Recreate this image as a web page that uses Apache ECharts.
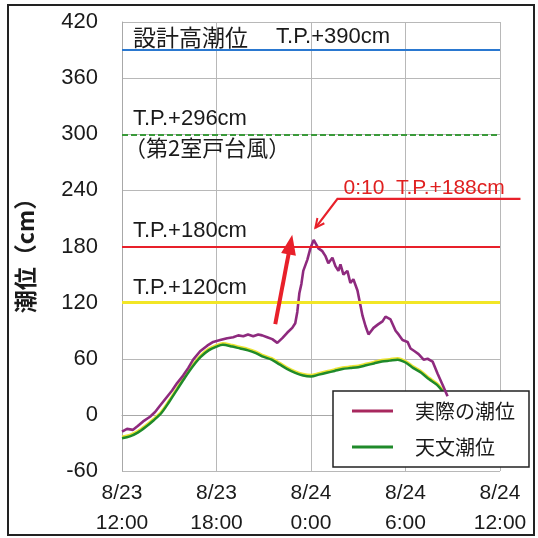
<!DOCTYPE html>
<html><head><meta charset="utf-8">
<script src="https://cdn.jsdelivr.net/npm/echarts@6/dist/echarts.min.js"></script>
<style>html,body{margin:0;padding:0;background:#fff}#c{width:538px;height:538px}</style>
</head><body><div id="c"></div>
<script>
// ---- data ----
const xTickLabels = ['8/23\n12:00', '8/23\n18:00', '8/24\n0:00', '8/24\n6:00', '8/24\n12:00'];
const seriesNames = ['実際の潮位', '天文潮位'];
// hours after 8/23 12:00
const actualHours = [0,0.32,0.7,1.0,1.34,1.78,2.1,2.42,2.8,3.18,3.5,3.88,4.2,4.52,4.96,5.41,5.79,6.23,6.68,7.06,7.38,7.7,8.0,8.33,8.65,8.9,9.22,9.54,9.86,10.18,10.5,10.81,11.0,11.13,11.26,11.39,11.51,11.77,11.96,12.17,12.47,12.72,12.91,13.1,13.36,13.55,13.74,13.87,14.06,14.31,14.5,14.69,14.95,15.08,15.27,15.46,15.65,15.97,16.28,16.54,16.73,17.05,17.37,17.56,17.81,18.13,18.32,18.58,18.83,19.15,19.4,19.72,20.04,20.36,20.67];
const actualLevels = [-18,-15,-16,-12,-7,-2,3,10,18,26,34,42,50,59,68,74,78,80,82,83,85,84,86,84,86,85,83,81,77,82,88,93,98,110,130,140,154,166,178,187,178,175,170,162,168,159,154,161,150,154,141,145,133,122,106,95,86,93,97,100,105,102,90,86,80,78,71,68,65,59,60,57,44,32,20];
const astroHours = [0,0.5,1,1.5,2,2.5,3,3.5,4,4.5,5,5.5,6,6.4,7,7.5,8,8.5,9,9.5,10,10.5,11,11.5,12,12.5,13,13.5,14,14.5,15,15.5,16,16.5,17,17.5,18,18.5,19,19.5,20,20.5];
const astroLevels = [-25,-23,-19,-13,-6,2,14,27,40,52,62,69,73,75,73,71,69,66,62,59,54,49,45,42,41,43,45,47,49,50,51,53,55,57,58,59,56,50,45,38,32,22];
const refLevels = [390, 300, 180, 120];
const refColors = ['#2a78d0', '#3a9a3a', '#e8202a', '#f2e626'];
const peakNote = '0:10  T.P.+188cm';

const LAT = "'Liberation Sans', Arial, 'Noto Sans CJK JP', sans-serif";
const CJK = "'Noto Sans CJK JP', sans-serif";

function pairs(xs, ys) { return xs.map((x, i) => [x, ys[i]]); }

const refLineData = refLevels.map((v, i) => [
  { coord: [0, v] },
  { coord: [24, v], lineStyle: { color: refColors[i], width: i === 3 ? 3 : (i === 1 ? 2 : 2.2), type: i === 1 ? [6, 3] : 'solid' } }
]);
// red rising arrow (annotation)
refLineData.push([
  { coord: [9.73, 97], symbol: 'none' },
  { coord: [10.69, 182], symbol: 'triangle', symbolSize: [15, 20], lineStyle: { color: '#e8202a', width: 4, type: 'solid' }, itemStyle: { color: '#e8202a' } }
]);

const option = {
  animation: false,
  backgroundColor: '#fff',
  grid: { left: 122, right: 38, top: 22, bottom: 63 },
  xAxis: {
    type: 'value', min: 0, max: 24, interval: 6,
    axisLine: { show: true, lineStyle: { color: '#a8a8a8', width: 1 } },
    axisTick: { show: false },
    splitLine: { show: true, lineStyle: { color: '#b8b8b8', width: 1 } },
    axisLabel: {
      formatter: v => xTickLabels[Math.round(v / 6)],
      fontSize: 21, lineHeight: 30, color: '#1a1a1a', margin: 7, fontFamily: LAT
    }
  },
  yAxis: {
    type: 'value', min: -60, max: 420, interval: 60,
    axisLine: { show: true, lineStyle: { color: '#a8a8a8', width: 1 } },
    axisTick: { show: false },
    splitLine: { show: true, lineStyle: { color: '#b8b8b8', width: 1 } },
    axisLabel: { fontSize: 22, color: '#1a1a1a', margin: 24, fontFamily: LAT }
  },
  legend: {
    orient: 'vertical', left: 333, top: 391,
    data: seriesNames, icon: 'rect', itemWidth: 41, itemHeight: 3, itemGap: 16,
    padding: [10, 14, 10, 19],
    backgroundColor: '#fff', borderColor: '#222', borderWidth: 1.5, borderRadius: 0,
    textStyle: { fontSize: 20, color: '#1a1a1a', fontFamily: CJK, padding: [0, 0, 0, 17] }
  },
  series: [
    {
      name: 'ref', type: 'line', data: [], silent: true, z: 1,
      markLine: {
        silent: true, symbol: 'none', label: { show: false },
        lineStyle: { type: 'solid' },
        emphasis: { disabled: true },
        data: refLineData
      }
    },
    {
      name: seriesNames[1], type: 'line', data: pairs(astroHours, astroLevels),
      smooth: 0.3, showSymbol: false, z: 3,
      lineStyle: { color: '#1f8a2a', width: 2.5, shadowColor: 'rgba(235,225,40,0.95)', shadowOffsetY: -1.5, shadowBlur: 0 },
      itemStyle: { color: '#1f8a2a' }
    },
    {
      name: seriesNames[0], type: 'line', data: pairs(actualHours, actualLevels),
      showSymbol: false, z: 4,
      lineStyle: { color: '#8e2a7e', width: 2.6 },
      itemStyle: { color: '#a8285e' }
    }
  ]
};

const chart = echarts.init(document.getElementById('c'), null, { renderer: 'canvas' });
chart.setOption(option);

const P = (h, v) => chart.convertToPixel({ gridIndex: 0 }, [h, v]);
const x0 = P(0, 0)[0];

// annotation arrow for peak
const a1 = P(25.3, 231), a2 = P(13.68, 231), a3 = P(12.28, 200);
const dx = a2[0] - a3[0], dy = a2[1] - a3[1];
const L = Math.hypot(dx, dy), ux = dx / L, uy = dy / L;
const wing = 10, ang = 0.45;
const w1 = [a3[0] + wing * (ux * Math.cos(ang) - uy * Math.sin(ang)), a3[1] + wing * (ux * Math.sin(ang) + uy * Math.cos(ang))];
const w2 = [a3[0] + wing * (ux * Math.cos(-ang) - uy * Math.sin(-ang)), a3[1] + wing * (ux * Math.sin(-ang) + uy * Math.cos(-ang))];

chart.setOption({
  graphic: [
    { type: 'rect', shape: { x: 8, y: 5, width: 526, height: 530 }, style: { fill: 'none', stroke: '#222', lineWidth: 2 }, z: 0 },
    { type: 'text', x: 25, y: 250, rotation: Math.PI / 2,
      style: { text: '潮位（cm）', font: "bold 23px 'Noto Sans CJK JP', sans-serif", fill: '#1a1a1a', align: 'center', verticalAlign: 'middle' } },
    { type: 'text', x: x0 + 11, y: P(0, refLevels[0])[1] - 13,
      style: { text: '{c|設計高潮位}{l|　 T.P.+390cm}', verticalAlign: 'middle', fill: '#1a1a1a',
        rich: { c: { fontSize: 23, fontFamily: CJK, fill: '#1a1a1a' }, l: { fontSize: 22, fontFamily: LAT, fill: '#1a1a1a' } } } },
    { type: 'text', x: x0 + 11, y: P(0, refLevels[1])[1] - 15,
      style: { text: 'T.P.+296cm', font: "22px " + LAT, fill: '#1a1a1a', verticalAlign: 'middle' } },
    { type: 'text', x: x0 + 2, y: P(0, refLevels[1])[1] + 13,
      style: { text: '（第2室戸台風）', font: "22px " + CJK, fill: '#1a1a1a', verticalAlign: 'middle' } },
    { type: 'text', x: x0 + 11, y: P(0, refLevels[2])[1] - 16,
      style: { text: 'T.P.+180cm', font: "22px " + LAT, fill: '#1a1a1a', verticalAlign: 'middle' } },
    { type: 'text', x: x0 + 11, y: P(0, refLevels[3])[1] - 15,
      style: { text: 'T.P.+120cm', font: "22px " + LAT, fill: '#1a1a1a', verticalAlign: 'middle' } },
    { type: 'text', x: a2[0] + 6, y: a2[1] - 11,
      style: { text: peakNote, font: "21px " + LAT, fill: '#e02020', verticalAlign: 'middle' } },
    { type: 'polyline', shape: { points: [a1, a2, a3] }, style: { stroke: '#e8202a', lineWidth: 2.2, fill: 'none' } },
    { type: 'polyline', shape: { points: [w1, a3, w2] }, style: { stroke: '#e8202a', lineWidth: 2, fill: 'none' } }
  ]
});
</script>
</body></html>
